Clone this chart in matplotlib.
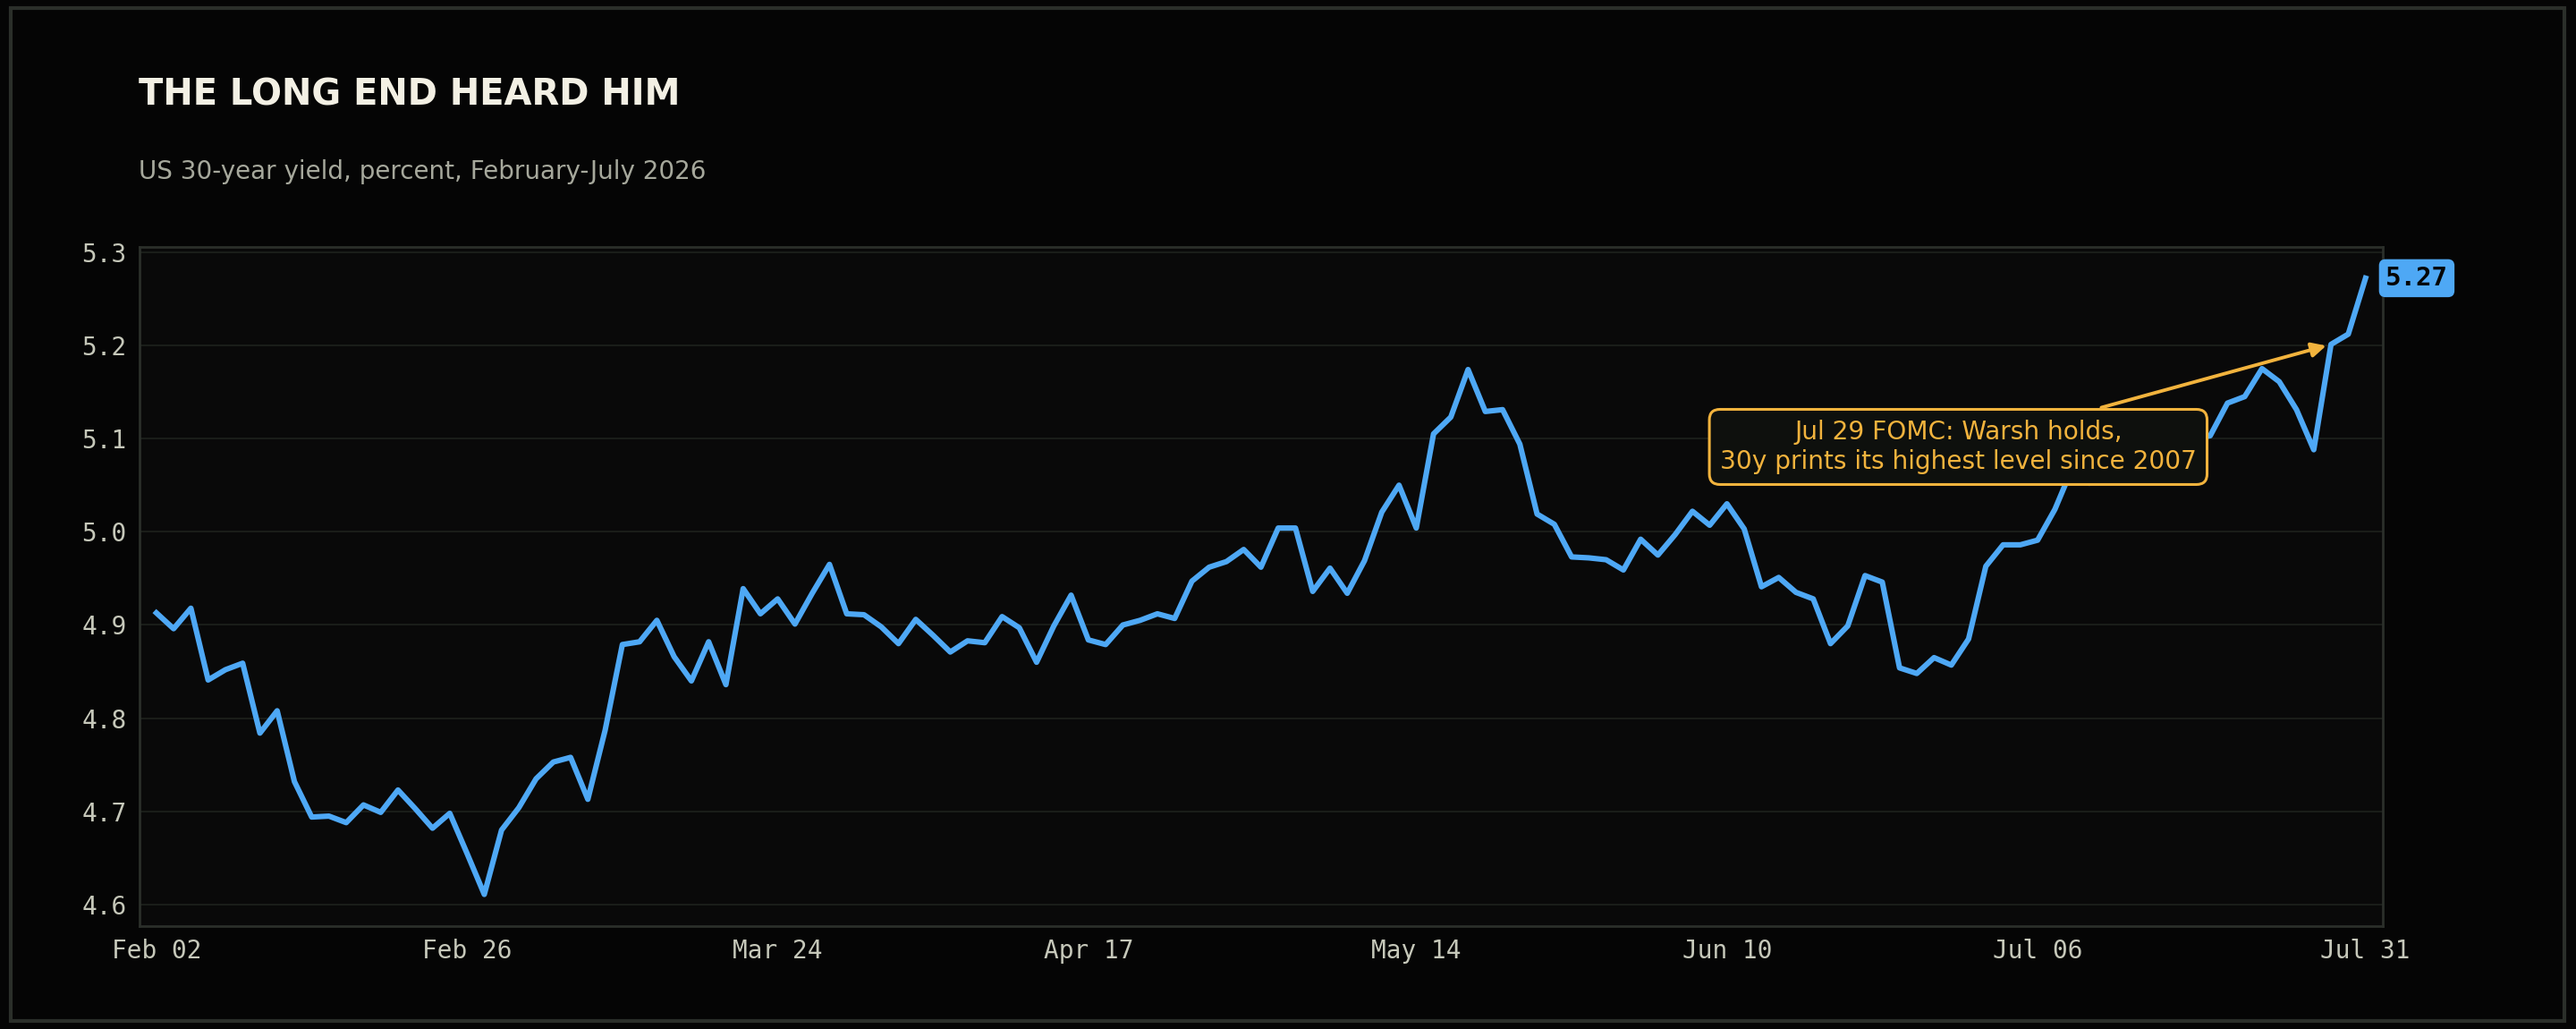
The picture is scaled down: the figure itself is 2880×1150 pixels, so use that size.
import numpy as np
import pandas as pd
import matplotlib
matplotlib.use("Agg")
import matplotlib.pyplot as plt
from matplotlib.patches import Rectangle

# --------------------------------------------------
# Data: US 30-year yield, business days Feb 2 - Jul 31 2026
# --------------------------------------------------

dates = pd.bdate_range("2026-02-02", "2026-07-31")
dates = dates[dates != pd.Timestamp("2026-05-25")]  # Memorial Day

yields = [
    4.913, 4.896, 4.918, 4.841, 4.852, 4.859, 4.784, 4.808, 4.732, 4.694,
    4.695, 4.688, 4.707, 4.699, 4.723, 4.703, 4.682, 4.698, 4.655, 4.611,
    4.680, 4.704, 4.735, 4.753, 4.758, 4.713, 4.787, 4.879, 4.882, 4.905,
    4.866, 4.840, 4.882, 4.836, 4.939, 4.912, 4.928, 4.901, 4.934, 4.965,
    4.912, 4.911, 4.898, 4.880, 4.906, 4.889, 4.871, 4.883, 4.881, 4.909,
    4.897, 4.860, 4.899, 4.932, 4.884, 4.879, 4.900, 4.905, 4.912, 4.907,
    4.947, 4.962, 4.968, 4.981, 4.962, 5.004, 5.004, 4.936, 4.961, 4.934,
    4.969, 5.021, 5.050, 5.004, 5.105, 5.123, 5.174, 5.129, 5.131, 5.094,
    5.019, 5.008, 4.973, 4.972, 4.970, 4.959, 4.992, 4.975, 4.997, 5.022,
    5.007, 5.030, 5.003, 4.941, 4.951, 4.935, 4.928, 4.880, 4.899, 4.953,
    4.946, 4.854, 4.848, 4.865, 4.857, 4.885, 4.963, 4.986, 4.986, 4.991,
    5.024, 5.068, 5.052, 5.070, 5.090, 5.075, 5.095, 5.085, 5.100, 5.103,
    5.138, 5.145, 5.175, 5.161, 5.131, 5.088, 5.201, 5.212, 5.272,
]

yticks = [4.6, 4.7, 4.8, 4.9, 5.0, 5.1, 5.2, 5.3]

title = "THE LONG END HEARD HIM"
subtitle = "US 30-year yield, percent, February-July 2026"
note = "Jul 29 FOMC: Warsh holds,\n30y prints its highest level since 2007"
fomc_date = "2026-07-29"

# --------------------------------------------------
# Colours
# --------------------------------------------------

BG = "#050505"
PANEL = "#090909"
FRAME = "#2b2f2a"
GRID = "#1b1e1a"
BLUE = "#4ea8f5"
GOLD = "#f2b33d"
TICK = "#c6c8ba"

n = len(yields)
x = np.arange(n)
y = np.array(yields)

fig = plt.figure(figsize=(14.4, 5.75), dpi=200, facecolor=BG)
ax = fig.add_axes([0.054, 0.10, 0.871, 0.66])
ax.set_facecolor(PANEL)

ax.plot(x, y, color=BLUE, lw=2.2, zorder=3)

ax.set_xlim(-1, n)
ax.set_ylim(4.577, 5.3055)

# ticks: 8 evenly spaced business days
tick_idx = np.linspace(0, n - 1, 8).astype(int)
ax.set_xticks(tick_idx)
ax.set_xticklabels([dates[i].strftime("%b %d") for i in tick_idx])
ax.set_yticks(yticks)
ax.set_yticklabels([f"{v:.1f}" for v in yticks])

for lab in ax.get_xticklabels() + ax.get_yticklabels():
    lab.set_family("DejaVu Sans Mono")
ax.tick_params(length=0, pad=5, colors=TICK, labelsize=10)

ax.grid(axis="y", color=GRID, lw=0.7, zorder=0)
ax.grid(axis="x", visible=False)
for s in ax.spines.values():
    s.set_color(FRAME)
    s.set_linewidth(1.0)

# last value tag
ax.annotate(
    f"{y[-1]:.2f}",
    xy=(x[-1], y[-1]),
    xytext=(8, 0),
    textcoords="offset points",
    ha="left", va="center",
    fontsize=10.5, fontweight="bold", family="DejaVu Sans Mono",
    color="#050505",
    bbox=dict(boxstyle="round,pad=0.2", fc=BLUE, ec=BLUE),
    annotation_clip=False,
    zorder=5,
)

# FOMC callout
fomc_i = list(dates).index(pd.Timestamp(fomc_date))
ax.annotate(
    note,
    xy=(fomc_i, y[fomc_i]),
    xytext=(104.4, 5.091),
    textcoords="data",
    ha="center", va="center",
    fontsize=10.1, color=GOLD,
    bbox=dict(boxstyle="round,pad=0.42", fc="#0e100d", ec=GOLD, lw=1.1),
    arrowprops=dict(arrowstyle="-|>", color=GOLD, lw=1.4, mutation_scale=12),
    zorder=6,
)

# headings
fig.text(0.0538, 0.898, title, fontsize=14.4, fontweight="bold",
         color="#f3f0e4", va="baseline", ha="left")
fig.text(0.0538, 0.826, subtitle, fontsize=10, color="#a6a89c",
         va="baseline", ha="left")

# outer frame
fig.patches.append(Rectangle((0.0042, 0.0078), 0.9913, 0.9844,
                             transform=fig.transFigure, fill=False,
                             ec=FRAME, lw=1.5))

fig.savefig("out.png", dpi=200, facecolor=BG)
